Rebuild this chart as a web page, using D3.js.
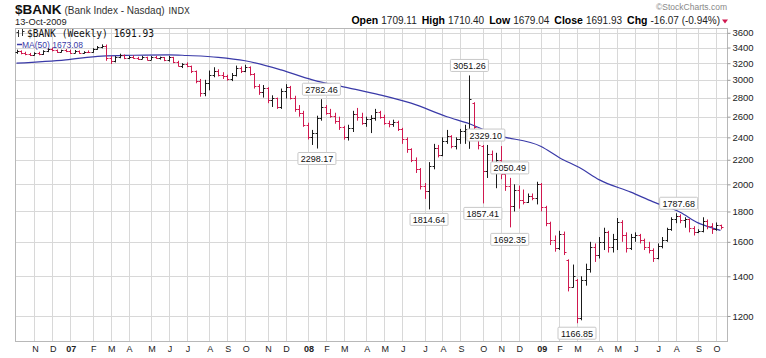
<!DOCTYPE html>
<html><head><meta charset="utf-8">
<script src="https://cdn.jsdelivr.net/npm/d3@7"></script>
<style>body{margin:0;background:#fff}svg{display:block}</style>
</head><body><svg id="c" width="766" height="358"></svg>
<script>
// ---- DATA ----
const firstWeek = "2006-10-09"; // Monday of first weekly bar
const opens = [3340,3350,3325,3310,3302,3330,3312,3352,3382,3362,3345,3366,3350,3335,3358,3330,3346,3340,3382,3405,
3425,3262,3228,3280,3300,3265,3282,3266,3255,3276,3245,3280,3262,3272,3235,3276,3210,3170,3186,3160,
3100,2990,2850,2960,3060,3110,3060,3040,3010,3062,3142,3100,3150,3070,2930,2860,2905,2770,2792,2700,
2870,2920,2800,2680,2640,2520,2400,2440,2590,2700,2640,2610,2560,2500,2400,2490,2625,2600,2540,2580,
2590,2650,2600,2540,2530,2552,2480,2380,2290,2200,2120,1990,1950,2150,2300,2240,2370,2410,2320,2385,
2455,2480,2740,2470,2320,2110,2250,2150,2200,2080,1990,1840,1955,1880,1870,1912,1900,2000,1830,1720,
1610,1560,1650,1490,1345,1380,1190,1380,1440,1570,1520,1600,1660,1570,1620,1730,1640,1560,1630,1645,
1610,1570,1550,1500,1575,1610,1680,1750,1770,1740,1745,1690,1660,1670,1735,1700,1680,1709.11];
const highs = [3372,3362,3345,3330,3338,3345,3365,3392,3400,3375,3372,3380,3372,3368,3362,3352,3362,3392,3420,3442,
3440,3290,3290,3320,3310,3292,3300,3280,3292,3282,3290,3292,3282,3278,3292,3280,3230,3200,3210,3170,
3110,3010,3000,3110,3150,3125,3090,3060,3080,3170,3160,3180,3160,3080,2950,2940,2915,2825,2800,2900,
2950,2930,2820,2720,2660,2540,2470,2610,2782.46,2720,2680,2640,2600,2510,2520,2660,2690,2640,2600,2615,
2680,2660,2620,2560,2570,2560,2490,2400,2300,2220,2130,2010,2180,2340,2330,2400,2470,2420,2400,2480,
2520,3051.26,2750,2480,2329.10,2330,2280,2260,2320,2110,2050.49,2000,1990,1960,1930,1930,2020,2010,1840,1730,
1640,1670,1665,1495,1465,1385,1400,1470,1600,1590,1630,1690,1670,1650,1755,1740,1660,1650,1660,1650,
1620,1600,1560,1590,1630,1690,1760,1787.68,1780,1760,1750,1700,1680,1760,1745,1720,1725,1710.40];
const lows = [3318,3312,3300,3290,3295,3300,3305,3340,3350,3330,3335,3340,3318,3325,3318,3320,3328,3332,3370,3390,
3230,3190,3210,3262,3250,3250,3255,3240,3250,3235,3240,3255,3245,3225,3220,3200,3160,3140,3150,3080,
2960,2810,2815,2880,3030,3040,3010,2990,2985,3040,3080,3090,3050,2900,2830,2800,2740,2700,2680,2680,
2790,2780,2650,2600,2500,2380,2330,2298.17,2560,2620,2590,2530,2470,2378,2370,2450,2560,2520,2500,2440,
2560,2580,2520,2495,2500,2460,2340,2260,2180,2090,1960,1890,1814.64,2120,2220,2230,2340,2300,2290,2340,
2340,2295,2460,2290,1857.41,2050,2120,1970,2040,1950,1692.35,1800,1820,1850,1860,1880,1850,1800,1700,1580,
1540,1550,1520,1320,1340,1166.85,1180,1350,1420,1480,1500,1550,1535,1535,1550,1600,1535,1550,1600,1590,
1550,1530,1480,1495,1560,1600,1670,1720,1720,1690,1660,1640,1655,1660,1680,1650,1670,1679.04];
const closes = [3350,3325,3310,3302,3330,3312,3352,3382,3362,3345,3366,3350,3335,3358,3330,3346,3340,3382,3405,3425,
3262,3228,3280,3300,3265,3282,3266,3255,3276,3245,3280,3262,3272,3235,3276,3210,3170,3186,3160,3100,
2990,2850,2960,3060,3110,3060,3040,3010,3062,3142,3100,3150,3070,2930,2860,2905,2770,2792,2700,2870,
2920,2800,2680,2640,2520,2400,2440,2590,2700,2640,2610,2560,2500,2400,2490,2625,2600,2540,2580,2590,
2650,2600,2540,2530,2552,2480,2380,2290,2200,2120,1990,1950,2150,2300,2240,2370,2410,2320,2385,2455,
2480,2780,2500,2330,2110,2250,2150,2200,2080,1990,1840,1955,1880,1870,1912,1900,2000,1830,1720,1610,
1560,1650,1540,1345,1400,1190,1380,1440,1570,1520,1600,1660,1570,1620,1730,1640,1560,1630,1645,1610,
1570,1550,1500,1575,1610,1680,1750,1770,1740,1745,1690,1660,1670,1735,1700,1680,1708,1691.93];
// 50-week moving average, read at selected weeks (week index -> value)
const maWeeks  = [0,11,19,26,34,38,45,51,59,66,74,81,88,96,101,107,117,121,126,130,137,142,148,152,155,157];
const maValues = [3200,3242,3290,3300,3306,3297,3274,3230,3118,3000,2908,2830,2740,2600,2530,2423,2316,2220,2124,2035,1940,1868,1794,1722,1690,1673.08];
const yTicks = [1200,1400,1600,1800,2000,2200,2400,2600,2800,3000,3200,3400,3600];
const monthLetters = ["J","F","M","A","M","J","J","A","S","O","N","D"];
// annotated extremes: week index, which value
const notes = [
  {w:68, kind:"high"}, {w:67, kind:"low"}, {w:101, kind:"high"}, {w:104, kind:"high", dx:3},
  {w:92, kind:"low"}, {w:104, kind:"low"}, {w:110, kind:"high"}, {w:110, kind:"low", dy:2},
  {w:125, kind:"low"}, {w:147, kind:"high", dx:3}
];
const header = {sym:"$BANK", name:"(Bank Index - Nasdaq)", exch:"INDX", date:"13-Oct-2009"};
const quote = [["Open","1709.11"],["High","1710.40"],["Low","1679.04"],["Close","1691.93"],["Chg","-16.07 (-0.94%)"]];

// ---- DRAW ----
const svg = d3.select("#c");
const P = {l:15, r:727, t:28, b:341};
const start = d3.utcParse("%Y-%m-%d")(firstWeek);
const dates = closes.map((_,i)=>d3.utcDay.offset(start, 7*i));
const x = d3.scaleUtc().domain([dates[0], dates[dates.length-1]]).range([16.5, 720.5]);
const y = d3.scaleLog().domain([1089, 3668]).range([P.b, P.t]);
const RED = "#d0184f", BLK = "#1a1a1a", BLUE = "#3a3aa8", GRID = "#d8d8d8";
const sans = "'Liberation Sans', Arial, sans-serif";

svg.append("rect").attr("width",766).attr("height",358).attr("fill","#fff");

// grid
const monthIdx = dates.map((d,i)=>i).filter(i=>i>0 && dates[i].getUTCMonth()!==dates[i-1].getUTCMonth());
const px = v=>Math.round(v)+0.5;
svg.append("g").selectAll("line").data(monthIdx).join("line")
  .attr("x1",i=>px(x(dates[i]))).attr("x2",i=>px(x(dates[i])))
  .attr("y1",P.t).attr("y2",P.b).attr("stroke",GRID);
svg.append("g").selectAll("line").data(yTicks).join("line")
  .attr("x1",P.l).attr("x2",P.r).attr("y1",v=>px(y(v))).attr("y2",v=>px(y(v))).attr("stroke",GRID);
svg.append("rect").attr("x",P.l+0.5).attr("y",P.t+0.5).attr("width",P.r-P.l).attr("height",P.b-P.t)
  .attr("fill","none").attr("stroke","#b8b8b8");

// right axis
const ax = svg.append("g").attr("transform",`translate(${P.r+0.5},0)`)
  .call(d3.axisRight(y).tickValues(yTicks).tickSize(3).tickFormat(d3.format("d")));
ax.select(".domain").remove();
ax.selectAll(".tick line").attr("stroke","#999");
ax.selectAll(".tick text").attr("x",5).attr("fill","#222").style("font",`9.5px ${sans}`);

// month labels
svg.append("g").selectAll("text").data(monthIdx).join("text")
  .attr("x",i=>x(dates[i])+1).attr("y",352).attr("text-anchor","middle")
  .style("font-family",sans).style("font-size","9px")
  .style("font-weight",i=>dates[i].getUTCMonth()===0?"bold":"normal")
  .attr("fill","#222")
  .text(i=>dates[i].getUTCMonth()===0 ? String(dates[i].getUTCFullYear()).slice(2) : monthLetters[dates[i].getUTCMonth()]);

// MA line
const maLine = d3.line().x(d=>x(dates[d[0]])).y(d=>y(d[1])).curve(d3.curveMonotoneX);
svg.append("path").datum(maWeeks.map((w,k)=>[w,maValues[k]]))
  .attr("d",maLine).attr("fill","none").attr("stroke",BLUE).attr("stroke-width",1.2);

// OHLC bars
const bars = svg.append("g").selectAll("g").data(closes.map((c,i)=>i)).join("g")
  .attr("stroke",i=> (i>0 && closes[i]<closes[i-1]) ? RED : BLK).attr("stroke-width",1);
bars.append("line").attr("x1",i=>px(x(dates[i]))).attr("x2",i=>px(x(dates[i])))
  .attr("y1",i=>y(highs[i])).attr("y2",i=>y(lows[i]));
bars.append("line").attr("x1",i=>px(x(dates[i]))-2).attr("x2",i=>px(x(dates[i])))
  .attr("y1",i=>px(y(opens[i]))).attr("y2",i=>px(y(opens[i])));
bars.append("line").attr("x1",i=>px(x(dates[i]))).attr("x2",i=>px(x(dates[i]))+2)
  .attr("y1",i=>px(y(closes[i]))).attr("y2",i=>px(y(closes[i])));

// annotations
const ng = svg.append("g").selectAll("g").data(notes).join("g").attr("transform",n=>{
  const v = n.kind==="high"?highs[n.w]:lows[n.w];
  const cy = y(v) + (n.kind==="high"?-10:10) + (n.dy||0);
  return `translate(${x(dates[n.w])+(n.dx||0)},${cy})`;
});
ng.append("rect").attr("x",-19).attr("y",-6).attr("width",38).attr("height",12)
  .attr("fill","#fff").attr("stroke","#c8c8c8").attr("rx",1);
ng.append("text").attr("text-anchor","middle").attr("y",3.5).attr("fill","#111")
  .style("font",`9px ${sans}`)
  .text(n=>(n.kind==="high"?highs[n.w]:lows[n.w]).toFixed(2));

// header
const h = svg.append("text").attr("x",15).attr("y",14).style("font-family",sans).attr("fill","#111");
h.append("tspan").style("font-weight","bold").style("font-size","13.5px").text(header.sym);
h.append("tspan").style("font-size","10px").attr("dx",3).attr("fill","#333").text(header.name);
h.append("tspan").style("font-size","8.5px").style("font-family","'DejaVu Sans',Verdana,sans-serif").attr("dx",4).attr("fill","#333").text(header.exch);
svg.append("text").attr("x",15).attr("y",25).style("font",`9.3px ${sans}`).attr("fill","#222").text(header.date);
svg.append("text").attr("x",727).attr("y",9.5).attr("text-anchor","end").style("font",`8.5px ${sans}`).attr("fill","#888").text("\u00A9StockCharts.com");
const q = svg.append("text").attr("x",720).attr("y",24).attr("text-anchor","end").style("font-family",sans).style("font-size","10px").attr("fill","#222");
quote.forEach(([k,v],j)=>{
  q.append("tspan").attr("dx",j?5:0).style("font-weight","bold").style("font-size","10.5px").attr("fill","#000").text(k);
  q.append("tspan").attr("dx",3).text(v);
});
svg.append("path").attr("d","M722,19.5 L728,19.5 L725,23.5 Z").attr("fill",RED);

// in-plot legend
const lg = svg.append("g");
lg.append("line").attr("x1",18.5).attr("x2",18.5).attr("y1",30).attr("y2",37).attr("stroke","#333");
lg.append("line").attr("x1",16.5).attr("x2",18.5).attr("y1",32.5).attr("y2",32.5).attr("stroke","#333");
lg.append("line").attr("x1",22.5).attr("x2",22.5).attr("y1",29).attr("y2",36).attr("stroke","#333");
lg.append("line").attr("x1",22.5).attr("x2",24.5).attr("y1",31.5).attr("y2",31.5).attr("stroke","#333");
lg.append("text").attr("x",27).attr("y",37).style("font","9.6px 'DejaVu Sans Mono', monospace").attr("fill","#111")
  .text(`${header.sym} (Weekly) ${closes[closes.length-1].toFixed(2)}`);
lg.append("line").attr("x1",17).attr("x2",22).attr("y1",44.5).attr("y2",44.5).attr("stroke",BLUE).attr("stroke-width",1.5);
lg.append("text").attr("x",22).attr("y",47.5).style("font",`8.5px ${sans}`).attr("fill",BLUE)
  .text(`MA(50) ${maValues[maValues.length-1].toFixed(2)}`);
</script></body></html>
